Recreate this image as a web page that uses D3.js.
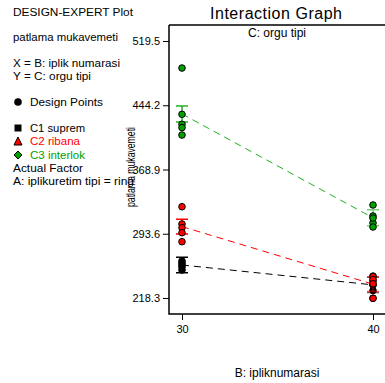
<!DOCTYPE html>
<html><head><meta charset="utf-8">
<script src="https://cdn.jsdelivr.net/npm/d3@7"></script>
<style>body{margin:0;background:#fff}svg{display:block}text{font-family:"Liberation Sans",Arial,sans-serif}</style>
</head><body><svg id="c" width="385" height="383"></svg>
<script>
const xLevels = [30, 40];
const yTicks = [218.3, 293.6, 368.9, 444.2, 519.5];
const seriesNames = ["C1 suprem", "C2 ribana", "C3 interlok"];
const seriesColors = ["#000000", "#ff0000", "#00a000"];
const lineColors = ["#000000", "#ff0000", "#22b022"];
// design points per series, at x=30 and x=40
const points30 = [
  [261.7, 259.4, 257.0, 254.6, 251.1],
  [325.3, 305.0, 300.7, 294.8, 284.3],
  [487.8, 433.6, 421.9, 418.0, 409.3]
];
const points40 = [
  [244.0, 238.0, 233.5, 227.0, 218.0],
  [243.3, 240.0, 233.9, 235.0, 217.9],
  [327.3, 314.4, 306.2, 301.5, 312.0]
];
// predicted means and LSD bar half-widths
const means30 = [257.0, 302.0, 434.0];
const means40 = [233.7, 234.5, 312.3];
const lsdHalf = [9.0, 8.6, 9.4];

const svg = d3.select("#c");
const x = d3.scaleLinear().domain([30, 40]).range([182, 373]);
const y = d3.scaleLinear().domain([218.3, 519.5]).range([298, 41]);
const L = 169, T = 25, B = 314, R = 400;

// left info panel
const info = svg.append("g").attr("font-size", 10).attr("fill", "#000");
const infoLines = [
  {t: "DESIGN-EXPERT Plot", x: 13, y: 16, w: 120},
  {t: "patlama mukavemeti", x: 13, y: 41, w: 105},
  {t: "X = B: iplik numarasi", x: 13, y: 67, w: 107},
  {t: "Y = C: orgu tipi", x: 13, y: 80, w: 78},
  {t: "Design Points", x: 30, y: 106, w: 73},
  {t: "C1 suprem", x: 30, y: 132, w: 55},
  {t: "C2 ribana", x: 30, y: 145, w: 50, c: "#ff0000"},
  {t: "C3 interlok", x: 30, y: 159, w: 55, c: "#00a000"},
  {t: "Actual Factor", x: 13, y: 172, w: 70},
  {t: "A: iplikuretim tipi = ring", x: 13, y: 185, w: 121}
];
infoLines.forEach(d => info.append("text").attr("x", d.x).attr("y", d.y).attr("textLength", d.w)
  .attr("lengthAdjust", "spacingAndGlyphs").attr("fill", d.c || "#000").text(d.t));
info.append("circle").attr("cx", 18).attr("cy", 102).attr("r", 3.8).attr("fill", "#000");
info.append("rect").attr("x", 14.5).attr("y", 124.5).attr("width", 7).attr("height", 7).attr("fill", "#000");
info.append("path").attr("d", "M18,137 L22,145 L14,145 Z").attr("fill", "#ff0000").attr("stroke", "#000").attr("stroke-width", 1);
info.append("path").attr("d", "M18,151 L22,155 L18,159 L14,155 Z").attr("fill", "#00a000").attr("stroke", "#000").attr("stroke-width", 1);

// frame
svg.append("path").attr("d", `M${L},${T}H${R}M${L},${T}V${B}H${R}`).attr("fill", "none").attr("stroke", "#000").attr("stroke-width", 1.5);

// y axis
const yAxis = d3.axisLeft(y).tickValues(yTicks).tickFormat(d3.format(".1f")).tickSize(6).tickPadding(3);
const gy = svg.append("g").attr("transform", `translate(${L},0)`).call(yAxis);
gy.select(".domain").remove();
gy.selectAll("text").attr("font-size", 11).attr("font-family", "Liberation Sans, Arial, sans-serif").attr("fill", "#000");

// x axis
const xAxis = d3.axisBottom(x).tickValues(xLevels).tickSize(6).tickPadding(5);
const gx = svg.append("g").attr("transform", `translate(0,${B})`).call(xAxis);
gx.select(".domain").remove();
gx.selectAll("text").attr("font-size", 11).attr("font-family", "Liberation Sans, Arial, sans-serif").attr("fill", "#000");

// titles
svg.append("text").attr("x", 276).attr("y", 19).attr("text-anchor", "middle").attr("font-size", 16).attr("textLength", 132).attr("lengthAdjust", "spacing").text("Interaction Graph");
svg.append("text").attr("x", 277).attr("y", 37).attr("text-anchor", "middle").attr("font-size", 12).text("C: orgu tipi");
svg.append("text").attr("x", 277).attr("y", 377).attr("text-anchor", "middle").attr("font-size", 12).text("B: ipliknumarasi");
svg.append("text").attr("transform", "translate(135,167) rotate(-90)").attr("text-anchor", "middle").attr("font-size", 13)
  .attr("textLength", 80).attr("lengthAdjust", "spacingAndGlyphs").text("patlama mukavemeti");

// series
const order = [0, 1, 2];
order.forEach(i => {
  const g = svg.append("g");
  // dashed interaction line
  g.append("line").attr("x1", x(30)).attr("y1", y(means30[i])).attr("x2", x(40)).attr("y2", y(means40[i]))
    .attr("stroke", lineColors[i]).attr("stroke-width", 1).attr("stroke-dasharray", "7,5");
  // LSD bars
  [[30, means30[i], 1], [40, means40[i], 0.6]].forEach(([lv, m, op]) => {
    const cx = x(lv);
    const top = y(m + lsdHalf[i]), bot = y(m - lsdHalf[i]);
    g.append("path").attr("d", `M${cx - 6},${top}H${cx + 6}M${cx},${top}V${bot}M${cx - 6},${bot}H${cx + 6}`)
      .attr("stroke", lineColors[i]).attr("stroke-opacity", op).attr("stroke-width", 1.5).attr("fill", "none");
  });
  // design points
  [[30, points30[i]], [40, points40[i]]].forEach(([lv, vals]) => {
    g.selectAll(null).data(vals).enter().append("circle")
      .attr("cx", x(lv)).attr("cy", d => y(d)).attr("r", 3.3)
      .attr("fill", seriesColors[i]).attr("stroke", "#000").attr("stroke-width", 1);
  });
});
</script></body></html>
